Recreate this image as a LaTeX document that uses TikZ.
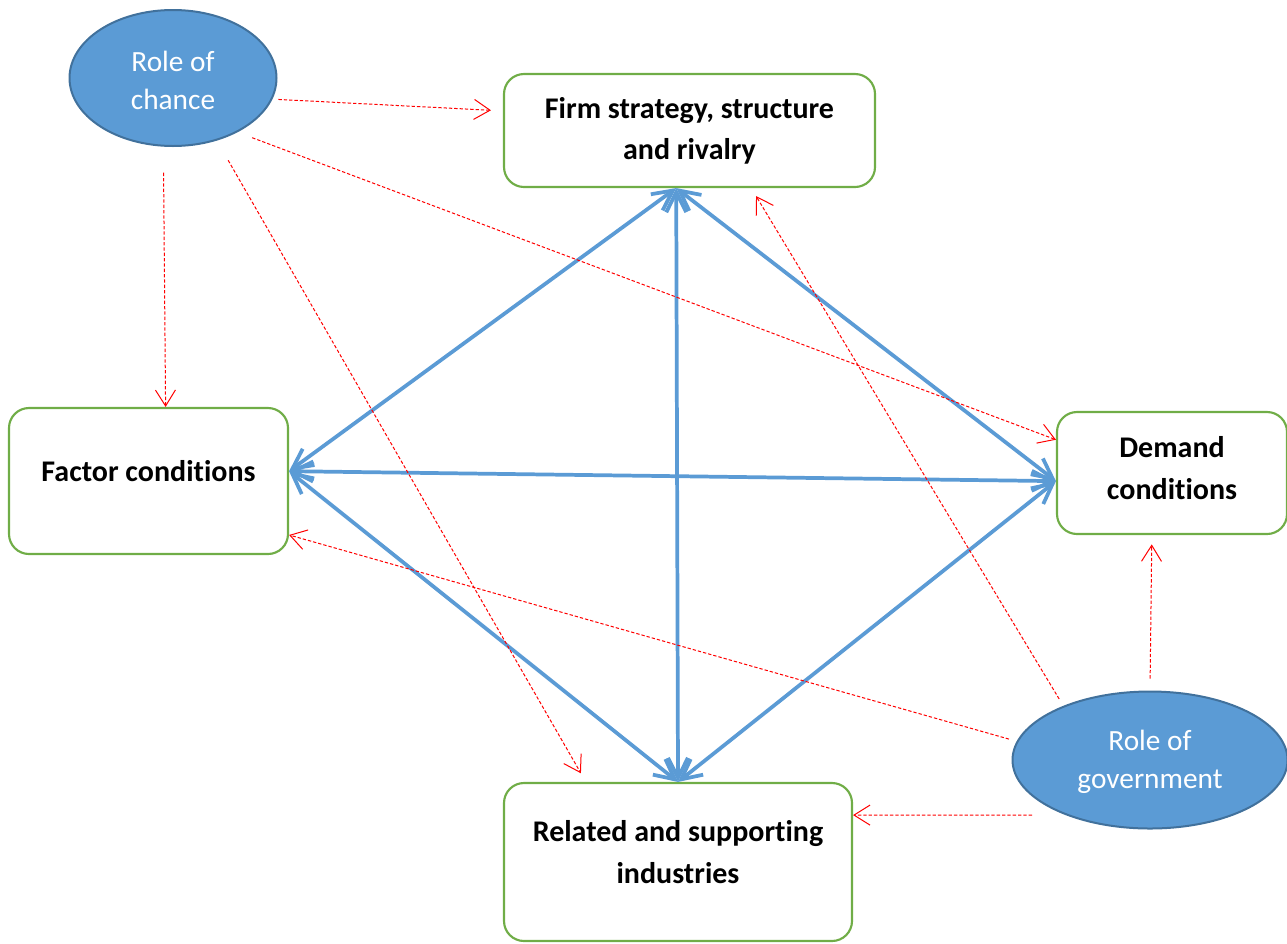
\documentclass[tikz,border=0pt]{standalone}
\usepackage{fontspec}
\setmainfont{Carlito}[Ligatures=NoCommon]
\usetikzlibrary{arrows.meta,shapes.geometric}
\definecolor{boxgreen}{RGB}{112,173,71}
\definecolor{ovalblue}{RGB}{91,155,213}
\definecolor{ovaledge}{RGB}{65,113,156}
\tikzset{every picture/.style={line width=0.75pt}}
\tikzset{
  roundbox/.style={draw=boxgreen, line width=1.6pt, rounded corners=15pt, inner sep=0pt},
  oval/.style={ellipse, draw=ovaledge, fill=ovalblue, line width=1.5pt, inner sep=0pt},
  boxtext/.style={align=center, inner sep=0.75pt, font=\fontsize{22.5}{31}\selectfont\bfseries},
  ovaltext/.style={align=center, inner sep=0.75pt, text=white, font=\fontsize{22}{28.5}\selectfont},
  bluelink/.style={draw=ovalblue, line width=2.8pt, {Straight Barb[length=15pt,width=15pt]}-{Straight Barb[length=15pt,width=15pt]}},
  redlink/.style={draw=red, dash pattern={on 2.5pt off 1.5pt}, -{Straight Barb[length=12pt,width=15pt]}},
}
\begin{document}
\begin{tikzpicture}[x=0.75pt,y=0.75pt,yscale=-1,xscale=1]
\useasboundingbox (0,0) rectangle (1287,943);

%Shape: Rounded Rect 
\node [roundbox, minimum width=278.25pt, minimum height=84.75pt] (firm) at (689.5,130.5) {};
%Shape: Rounded Rect 
\node [roundbox, minimum width=209.25pt, minimum height=109.5pt] (factor) at (148.5,481) {};
%Shape: Rounded Rect 
\node [roundbox, minimum width=172.5pt, minimum height=91.5pt] (demand) at (1172,473) {};
%Shape: Rounded Rect 
\node [roundbox, minimum width=261pt, minimum height=118.5pt] (related) at (678,862) {};
%Shape: Ellipse 
\node [oval, minimum width=155.25pt, minimum height=102pt] (chance) at (173,78) {};
%Shape: Ellipse 
\node [oval, minimum width=206.25pt, minimum height=102.75pt] (gov) at (1150,760) {};

%Straight Lines 
\draw [bluelink] (firm.-103) -- (factor.4);
\draw [bluelink] (firm.-103) -- (related.north);
\draw [bluelink] (firm.-103) -- (demand.184);
\draw [bluelink] (factor.4) -- (demand.184);
\draw [bluelink] (factor.4) -- (related.north);
\draw [bluelink] (demand.184) -- (related.north);

%Straight Lines 
\draw [redlink, shorten <=4.5pt, shorten >=9pt] (chance.-12) -- (firm.174);
\draw [redlink, shorten <=11.7pt] (chance.-40) -- (demand.164);
\draw [redlink, shorten <=19.5pt] (chance.-98) -- (factor.77);
\draw [redlink, shorten <=17pt, shorten >=7.5pt] (chance.-55) -- (related.139);
\draw [redlink, shorten <=6pt, shorten >=7pt] (gov.148) -- (firm.-43);
\draw [redlink, shorten <=9pt, shorten >=7pt] (gov.north) -- (demand.-108);
\draw [redlink, shorten <=6pt] (gov.172) -- (factor.-21);
\draw [redlink, shorten <=25pt] (gov.-147) -- (related.15);

% Text Node
\node [boxtext] (firmtxt) at (689.5,131) {Firm strategy, structure\\and rivalry};
% Text Node
\node [boxtext] (factortxt) at (148.5,471) {Factor conditions};
% Text Node
\node [boxtext] (demandtxt) at (1172,468) {Demand\\conditions};
% Text Node
\node [boxtext] (relatedtxt) at (678,852) {Related and supporting\\industries};
% Text Node
\node [ovaltext] (chancetxt) at (173,80) {Role of\\chance};
% Text Node
\node [ovaltext] (govtxt) at (1150,762) {Role of\\government};

\end{tikzpicture}
\end{document}
